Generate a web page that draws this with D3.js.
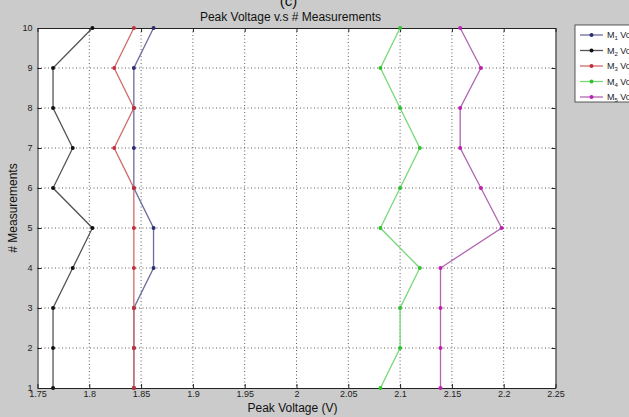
<!DOCTYPE html>
<html><head><meta charset="utf-8">
<script src="https://cdn.jsdelivr.net/npm/d3@7"></script>
<style>
html,body{margin:0;padding:0;background:#cbcbcb;overflow:hidden;}
svg{display:block;font-family:"Liberation Sans",Arial,sans-serif;}
</style></head>
<body>
<svg id="c" width="629" height="417"></svg>
<script>
const measurements = [1,2,3,4,5,6,7,8,9,10];
const seriesNames = ["1","2","3","4","5"];
const m1 = [1.843,1.843,1.843,1.862,1.862,1.843,1.843,1.843,1.843,1.862];
const m2 = [1.765,1.765,1.765,1.784,1.803,1.765,1.784,1.765,1.765,1.803];
const m3 = [1.843,1.843,1.843,1.843,1.843,1.843,1.824,1.843,1.824,1.843];
const m4 = [2.081,2.100,2.100,2.119,2.081,2.100,2.119,2.100,2.081,2.100];
const m5 = [2.139,2.139,2.139,2.139,2.198,2.178,2.158,2.158,2.178,2.158];
const xTicks = [1.75,1.8,1.85,1.9,1.95,2,2.05,2.1,2.15,2.2,2.25];
const yTicks = [1,2,3,4,5,6,7,8,9,10];

const series = [
  {name:seriesNames[0], vals:m1, line:"#6b6b9e", dot:"#2c2c6e"},
  {name:seriesNames[1], vals:m2, line:"#555555", dot:"#111111"},
  {name:seriesNames[2], vals:m3, line:"#cf6a6a", dot:"#c0303a"},
  {name:seriesNames[3], vals:m4, line:"#78d878", dot:"#30c030"},
  {name:seriesNames[4], vals:m5, line:"#b066b0", dot:"#c020b0"}
];

const svg = d3.select("#c");
const L=37.5, R=555.5, T=28, B=388;
const x = d3.scaleLinear().domain([1.75,2.25]).range([L,R]);
const y = d3.scaleLinear().domain([1,10]).range([B,T]);

svg.append("rect").attr("x",L).attr("y",T).attr("width",R-L).attr("height",B-T).attr("fill","#fff");

// grid
const g = svg.append("g");
g.selectAll(".gx").data(xTicks.slice(1,-1)).enter().append("line")
  .attr("x1",d=>x(d)).attr("x2",d=>x(d)).attr("y1",T).attr("y2",B)
  .attr("stroke","#333").attr("stroke-width",0.8).attr("stroke-dasharray","1,2.5");
g.selectAll(".gy").data(yTicks.slice(1,-1)).enter().append("line")
  .attr("y1",d=>y(d)).attr("y2",d=>y(d)).attr("x1",L).attr("x2",R)
  .attr("stroke","#333").attr("stroke-width",0.8).attr("stroke-dasharray","1,2.5");

// axes
const fmt = d=>String(+d.toFixed(2));
const axB = d3.axisBottom(x).tickValues(xTicks).tickFormat(fmt).tickSizeInner(-4).tickSizeOuter(0).tickPadding(3);
const axT = d3.axisTop(x).tickValues(xTicks).tickFormat("").tickSizeInner(-4).tickSizeOuter(0);
const axL = d3.axisLeft(y).tickValues(yTicks).tickFormat(d3.format("d")).tickSizeInner(-4).tickSizeOuter(0).tickPadding(5);
const axR = d3.axisRight(y).tickValues(yTicks).tickFormat("").tickSizeInner(-4).tickSizeOuter(0);
function style(sel){
  sel.selectAll("path").attr("stroke","#222");
  sel.selectAll("line").attr("stroke","#222");
  sel.selectAll("text").attr("fill","#222").style("font-size","9px").style("font-family","'Liberation Sans',Arial,sans-serif");
}
svg.append("g").attr("transform",`translate(0,${B})`).call(axB).call(style);
svg.append("g").attr("transform",`translate(0,${T})`).call(axT).call(style);
svg.append("g").attr("transform",`translate(${L},0)`).call(axL).call(style);
svg.append("g").attr("transform",`translate(${R},0)`).call(axR).call(style);

// series
const line = d3.line().x(d=>x(d[0])).y(d=>y(d[1]));
series.forEach(s=>{
  const pts = s.vals.map((v,i)=>[v,measurements[i]]);
  svg.append("path").datum(pts).attr("d",line).attr("fill","none").attr("stroke",s.line).attr("stroke-width",1.3);
  svg.selectAll(null).data(pts).enter().append("circle")
    .attr("cx",d=>x(d[0])).attr("cy",d=>y(d[1])).attr("r",2).attr("fill",s.dot);
});

// title etc
svg.append("text").attr("x",(L+R)/2-8).attr("y",6).attr("text-anchor","middle")
  .style("font-size","15px").attr("fill","#111").text("(c)");
svg.append("text").attr("x",(L+R)/2-6).attr("y",21).attr("text-anchor","middle")
  .style("font-size","12px").attr("fill","#111").text("Peak Voltage v.s # Measurements");
svg.append("text").attr("x",(L+R)/2-4).attr("y",412).attr("text-anchor","middle")
  .style("font-size","12px").attr("fill","#111").text("Peak Voltage (V)");
svg.append("text").attr("transform",`translate(17,${(T+B)/2}) rotate(-90)`).attr("text-anchor","middle")
  .style("font-size","12px").attr("fill","#111").text("# Measurements");

// legend
const lg = svg.append("g");
lg.append("rect").attr("x",575).attr("y",25).attr("width",70).attr("height",77)
  .attr("fill","#fff").attr("stroke","#333").attr("stroke-width",0.8);
series.forEach((s,i)=>{
  const yy = 35 + i*15.5;
  lg.append("line").attr("x1",580).attr("x2",603).attr("y1",yy).attr("y2",yy).attr("stroke",s.line).attr("stroke-width",1.3);
  lg.append("circle").attr("cx",591.5).attr("cy",yy).attr("r",2).attr("fill",s.dot);
  const t = lg.append("text").attr("x",607).attr("y",yy+3).style("font-size","9px").attr("fill","#222");
  t.append("tspan").text("M");
  t.append("tspan").attr("dy",2).style("font-size","6px").text(s.name);
  t.append("tspan").attr("dy",-2).text(" Voltage");
});
</script>
</body></html>
